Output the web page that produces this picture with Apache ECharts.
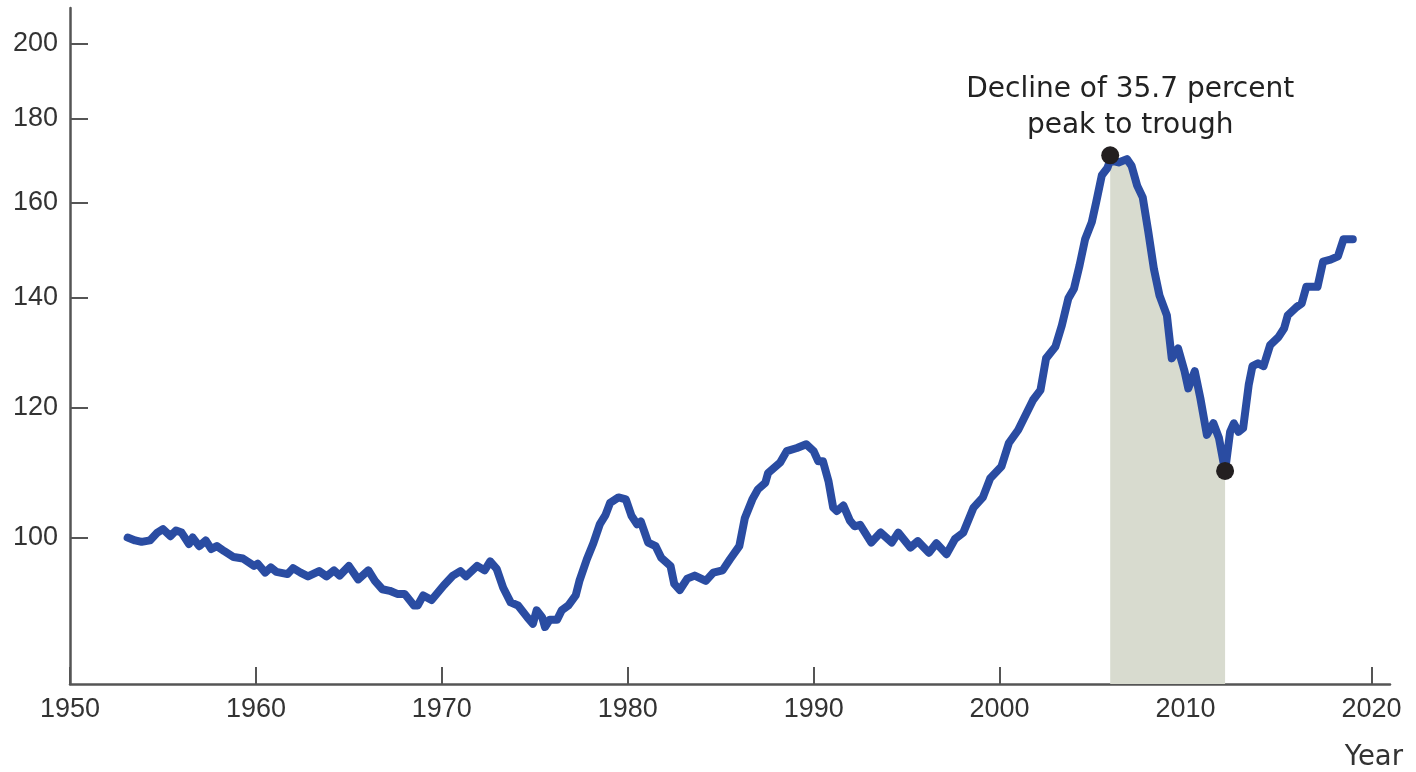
<!DOCTYPE html>
<html><head><meta charset="utf-8">
<script src="https://cdn.jsdelivr.net/npm/echarts@6/dist/echarts.min.js"></script>
<style>html,body{margin:0;padding:0;background:#fff}#c{width:1416px;height:772px}</style>
</head><body><div id="c"></div>
<script>
const years = [1953.1,1953.5,1953.85,1954.3,1954.7,1955.0,1955.4,1955.7,1956.0,1956.4,1956.6,1956.95,1957.3,1957.6,1957.9,1958.3,1958.8,1959.3,1959.9,1960.1,1960.5,1960.8,1961.1,1961.7,1962.0,1962.4,1962.8,1963.4,1963.8,1964.2,1964.5,1965.0,1965.5,1966.05,1966.4,1966.8,1967.2,1967.6,1968.0,1968.5,1968.7,1969.0,1969.45,1970.1,1970.6,1971.0,1971.3,1971.9,1972.3,1972.6,1972.95,1973.3,1973.7,1974.1,1974.6,1974.9,1975.1,1975.4,1975.55,1975.8,1976.2,1976.45,1976.8,1977.2,1977.4,1977.8,1978.15,1978.5,1978.8,1979.05,1979.5,1979.9,1980.2,1980.5,1980.7,1981.1,1981.5,1981.8,1982.3,1982.5,1982.8,1983.2,1983.6,1984.2,1984.6,1985.1,1985.5,1986.0,1986.3,1986.7,1987.0,1987.4,1987.55,1988.2,1988.55,1989.1,1989.6,1990.0,1990.25,1990.5,1990.8,1991.05,1991.25,1991.6,1991.95,1992.2,1992.5,1993.1,1993.6,1994.2,1994.55,1995.2,1995.6,1996.2,1996.6,1997.15,1997.6,1998.05,1998.6,1999.1,1999.5,2000.1,2000.5,2001.0,2001.5,2001.8,2002.2,2002.5,2003.0,2003.35,2003.7,2004.0,2004.3,2004.6,2004.96,2005.2,2005.5,2005.8,2005.95,2006.4,2006.85,2007.1,2007.4,2007.7,2008.0,2008.3,2008.6,2009.0,2009.26,2009.6,2009.95,2010.15,2010.5,2010.8,2011.15,2011.5,2011.8,2012.13,2012.4,2012.6,2012.85,2013.1,2013.4,2013.6,2013.9,2014.2,2014.55,2015.0,2015.3,2015.5,2015.97,2016.25,2016.5,2017.1,2017.4,2017.8,2018.2,2018.5,2019.0];
const values = [100.0,99.6,99.4,99.6,100.7,101.2,100.2,101.0,100.7,99.1,100.0,98.8,99.6,98.4,98.8,98.1,97.3,97.1,96.1,96.4,95.2,95.9,95.3,95.0,95.8,95.2,94.7,95.4,94.7,95.5,94.8,96.1,94.3,95.5,94.1,93.0,92.8,92.4,92.4,90.9,90.9,92.2,91.6,93.5,94.8,95.4,94.7,96.1,95.5,96.7,95.7,93.2,91.3,90.9,89.4,88.6,90.3,89.4,88.2,89.1,89.1,90.3,90.9,92.2,94.1,97.0,99.2,101.9,103.2,105.0,105.8,105.5,103.1,101.9,102.3,99.3,98.8,97.2,96.1,93.7,92.9,94.4,94.8,94.1,95.2,95.5,97.0,98.8,102.8,105.5,107.0,108.0,109.5,111.1,112.9,113.4,114.0,112.9,111.3,111.3,108.2,104.3,103.8,104.6,102.4,101.6,101.8,99.3,100.7,99.3,100.7,98.6,99.5,97.9,99.2,97.7,99.8,100.7,104.3,105.8,108.7,110.5,114.2,116.3,119.4,121.3,123.0,128.6,130.7,134.7,139.9,141.8,146.5,152.0,155.7,160.2,166.3,168.0,169.8,169.3,170.1,168.5,163.9,161.2,153.6,145.8,140.5,136.6,128.6,130.4,126.3,123.3,126.3,121.6,115.5,117.4,115.0,109.8,116.0,117.4,116.0,116.6,123.9,127.2,127.7,127.2,131.0,132.5,134.1,136.6,138.2,138.9,142.2,142.2,147.3,147.7,148.4,152.0,152.0];
const markerYears = [2005.95, 2012.13];
const markerValues = [171.0, 109.8];
const shadeStart = 2005.95, shadeEnd = 2012.13;
const xTicks = [1950,1960,1970,1980,1990,2000,2010,2020];
const yTicks = [100,120,140,160,180,200];
const annotationText = 'Decline of 35.7 percent\npeak to trough';
const xName = 'Year';

const lineData = years.map((y, i) => [y, values[i]]);
const shadeData = lineData.filter(d => d[0] >= shadeStart && d[0] <= shadeEnd);
const markerData = markerYears.map((y, i) => [y, markerValues[i]]);

const labelFont = "'Liberation Sans',Arial,sans-serif";
const textColor = '#333333';
const axisColor = '#555555';

const chart = echarts.init(document.getElementById('c'), null, {renderer: 'canvas'});
chart.setOption({
  animation: false,
  backgroundColor: '#ffffff',
  grid: {left: 70, right: 26, top: 8, bottom: 85, containLabel: false},
  xAxis: {
    type: 'value', min: 1950, max: 2021,
    name: xName, nameLocation: 'end', nameGap: 13,
    nameTextStyle: {fontFamily: 'DejaVu Sans', fontSize: 27.5, color: textColor, align: 'right', verticalAlign: 'top', padding: [60, 0, 0, 0]},
    axisLine: {lineStyle: {color: axisColor, width: 2.5}},
    axisTick: {inside: true, length: 17, lineStyle: {color: axisColor, width: 2}, customValues: xTicks},
    axisLabel: {customValues: xTicks, formatter: v => String(v), fontFamily: labelFont, fontSize: 27, color: textColor, margin: 12},
    splitLine: {show: false}
  },
  yAxis: {
    type: 'log', logBase: 10, min: 81.42, max: 210.3,
    axisLine: {show: true, lineStyle: {color: axisColor, width: 2.5}},
    axisTick: {show: true, inside: true, length: 18, lineStyle: {color: axisColor, width: 2}, customValues: yTicks},
    axisLabel: {customValues: yTicks, formatter: v => String(v), fontFamily: labelFont, fontSize: 27, color: textColor, margin: 12},
    splitLine: {show: false}
  },
  series: [
    {
      type: 'line', data: shadeData, symbol: 'none', silent: true, z: 1,
      lineStyle: {width: 0, opacity: 0},
      areaStyle: {color: '#d8dbcf', opacity: 1, origin: 'start'}
    },
    {
      type: 'line', data: lineData, symbol: 'none', z: 3,
      lineStyle: {color: '#2a4ca2', width: 8, cap: 'round', join: 'round'}
    },
    {
      type: 'scatter', z: 4, symbol: 'circle', symbolSize: 18,
      itemStyle: {color: '#231f20', opacity: 1},
      data: markerData.map((d, i) => i === 0 ? {
        value: d,
        label: {show: true, position: 'top', distance: 3, offset: [20, 0], formatter: annotationText,
          fontFamily: 'DejaVu Sans', fontSize: 28, lineHeight: 36, color: '#222222', opacity: 1, align: 'center'}
      } : {value: d})
    }
  ]
});
</script></body></html>
